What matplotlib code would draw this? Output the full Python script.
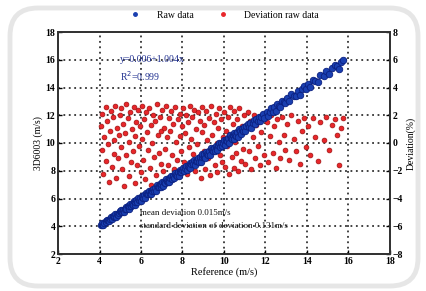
import matplotlib
matplotlib.use("Agg")
import matplotlib.pyplot as plt
from matplotlib.patches import FancyBboxPatch
from matplotlib.lines import Line2D

# reference wind speed (m/s) and deviation (%) of each sample
ref_speed = [
    4.05, 4.10, 4.12, 4.18, 4.22, 4.30, 4.33, 4.38, 4.42, 4.47, 4.50, 4.55, 4.60, 4.63, 4.68, 4.72, 4.77, 4.80, 4.85, 4.90, 4.93, 4.97,
    5.02, 5.05, 5.10, 5.13, 5.18, 5.22, 5.27, 5.30, 5.35, 5.40, 5.43, 5.48, 5.52, 5.56, 5.60, 5.65, 5.70, 5.73, 5.78, 5.82, 5.86, 5.90, 5.95, 5.98,
    6.03, 6.07, 6.10, 6.15, 6.20, 6.24, 6.28, 6.33, 6.37, 6.42, 6.46, 6.50, 6.55, 6.58, 6.63, 6.67, 6.72, 6.76, 6.80, 6.85, 6.90, 6.94, 6.98,
    7.02, 7.06, 7.10, 7.15, 7.20, 7.24, 7.28, 7.33, 7.37, 7.42, 7.46, 7.50, 7.55, 7.60, 7.64, 7.68, 7.73, 7.77, 7.82, 7.86, 7.90, 7.95, 7.98,
    8.03, 8.07, 8.12, 8.16, 8.20, 8.25, 8.30, 8.34, 8.38, 8.43, 8.47, 8.52, 8.56, 8.60, 8.65, 8.70, 8.74, 8.78, 8.83, 8.87, 8.92, 8.96,
    9.02, 9.06, 9.10, 9.15, 9.20, 9.24, 9.28, 9.33, 9.37, 9.42, 9.46, 9.50, 9.55, 9.60, 9.64, 9.68, 9.73, 9.77, 9.82, 9.86, 9.90, 9.95,
    10.02, 10.06, 10.10, 10.15, 10.20, 10.24, 10.28, 10.33, 10.37, 10.42, 10.46, 10.50, 10.55, 10.60, 10.64, 10.68, 10.73, 10.78, 10.82, 10.87, 10.92, 10.96,
    11.03, 11.08, 11.14, 11.20, 11.26, 11.32, 11.38, 11.44, 11.50, 11.56, 11.62, 11.68, 11.74, 11.80, 11.86, 11.92,
    12.05, 12.12, 12.20, 12.27, 12.34, 12.42, 12.50, 12.57, 12.64, 12.72, 12.80, 12.88, 12.95,
    13.05, 13.15, 13.25, 13.35, 13.45, 13.55, 13.65, 13.75, 13.85, 13.95,
    14.05, 14.15, 14.30, 14.40, 14.55, 14.65, 14.80, 14.90,
    15.05, 15.20, 15.35, 15.45, 15.55, 15.65, 15.72,
]
deviation = [
    1.2, -0.5, 2.1, -2.2, 0.4, 2.6, -1.3, 1.6, -0.1, -2.8, 0.9, 2.3, -1.7, 1.9, -0.8, 0.2, 2.7, -2.5, 1.1, -1.1, 0.6, 2.0,
    -0.3, 2.5, -1.9, 1.4, -3.1, 0.7, 2.8, -0.9, 1.8, -2.4, 0.1, 2.2, -1.4, 1.0, -0.6, 2.6, -2.9, 0.5, 1.5, -1.6, 2.4, -0.2, 1.2, -2.1,
    2.7, 0.3, -1.2, 1.7, -2.6, 2.2, 0.8, -0.5, 2.5, -1.8, 1.3, -3.0, 0.0, 2.0, -1.0, 1.6, -2.3, 2.8, 0.6, -0.7, 1.9, -1.5, 0.9,
    2.4, -2.0, 1.1, -0.4, 2.7, 0.4, -1.6, 1.8, -2.7, 0.9, 2.3, -0.9, 1.4, -1.9, 2.6, 0.1, -1.2, 1.7, -2.4, 2.1, 0.5, -0.6, 1.2,
    2.5, -1.4, 0.7, 2.0, -2.2, 1.5, -0.3, 2.7, -1.8, 0.3, 1.9, -0.8, 2.4, -2.0, 1.0, -0.1, 2.2, -1.3, 1.6, -2.5, 0.8, 2.6,
    -0.6, 1.3, -1.9, 2.3, 0.2, -1.1, 1.8, -2.3, 2.7, 0.6, -0.4, 1.5, -1.6, 2.1, 0.0, -2.1, 1.1, 2.5, -0.9, 1.7, -1.4, 0.4,
    2.2, -1.7, 0.9, -0.2, 1.9, -2.2, 2.6, 0.5, -1.0, 1.4, -1.8, 2.3, 0.1, -0.7, 1.7, -2.0, 2.5, 0.7, -1.3, 1.2, -0.4, 2.0,
    -1.5, 1.0, 2.2, -0.6, 1.6, -1.9, 0.4, 2.0, -1.1, 1.3, -0.2, 1.9, -1.6, 0.8, 2.1, -0.9,
    1.5, -1.4, 0.5, 2.0, -0.7, 1.2, -1.8, 1.7, 0.1, -1.1, 1.9, 0.6, -0.5,
    1.4, -1.2, 2.0, 0.3, -0.6, 1.6, -1.5, 0.9, 1.8, -0.3,
    1.2, -0.9, 1.8, 0.4, -1.3, 1.5, 0.2, 1.9,
    -0.5, 1.3, 1.7, 0.6, -1.6, 1.1, 1.8,
]
# measured (3D6003) speed derived from reference speed and deviation
raw_speed = [r * (1 + d / 100.0) for r, d in zip(ref_speed, deviation)]

x_ticks = [2, 4, 6, 8, 10, 12, 14, 16, 18]
y_ticks = [2, 4, 6, 8, 10, 12, 14, 16, 18]
dev_ticks = [-8, -6, -4, -2, 0, 2, 4, 6, 8]

plt.rcParams['font.family'] = ['Liberation Serif', 'DejaVu Serif']

fig = plt.figure(figsize=(4.27, 2.91), dpi=100)
fig.patch.set_facecolor('white')
frame = FancyBboxPatch((0.10, 0.05), 4.08, 2.78,
                       boxstyle="round,pad=0,rounding_size=0.28",
                       transform=fig.dpi_scale_trans, fill=False,
                       ec='#e6e6e6', lw=3.5)
fig.patches.append(frame)

ax = fig.add_axes([58 / 427, 1 - 254 / 291, (390 - 58) / 427, (254 - 32) / 291])
ax2 = ax.twinx()

ax.set_xlim(2, 18)
ax.set_ylim(2, 18)
ax2.set_ylim(-8, 8)
ax.set_xticks(x_ticks)
ax.set_yticks(y_ticks)
ax2.set_yticks(dev_ticks)

# grid on the back (deviation) axes so it sits below all points
ax2.xaxis.set_visible(True)
ax2.tick_params(axis='x', bottom=False, top=False, labelbottom=False, labeltop=False)
ax2.set_axisbelow(True)
ax2.grid(True, axis='both', color='#333333', linestyle=(0, (1, 2)), linewidth=1.3)

ax2.scatter(ref_speed, deviation, s=12, c='#e8262a', edgecolors='#a01010',
            linewidths=0.5, zorder=3)
ax.scatter(ref_speed, raw_speed, s=22, c='#1a3fb0', edgecolors='#0a1f80',
           linewidths=0.6, zorder=4)
ax.set_zorder(ax2.get_zorder() + 1)
ax.patch.set_visible(False)

for a in (ax, ax2):
    for sp in a.spines.values():
        sp.set_linewidth(1.3)
        sp.set_color('#333333')
    a.tick_params(axis='y', direction='in', length=3, width=1, labelsize=7, pad=2)
ax.tick_params(axis='x', direction='in', length=3, width=1, labelsize=7, pad=2)
for lab in ax.get_xticklabels() + ax.get_yticklabels() + ax2.get_yticklabels():
    lab.set_fontweight('bold')

ax.set_xlabel('Reference (m/s)', fontsize=7.5, labelpad=1)
ax.set_ylabel('3D6003 (m/s)', fontsize=7, labelpad=2)
ax2.set_ylabel('Deviation(%)', fontsize=7, labelpad=2)

ax.text(5.0, 16.0, 'y=0.006+1.004x', color='#1f2f8f', fontsize=7, va='center')
ax.text(5.0, 14.85, 'R$^2$=0.999', color='#1f2f8f', fontsize=7, va='center')
ax.text(5.95, 4.95, 'mean deviation 0.015m/s', color='#111111', fontsize=6.5, va='center')
ax.text(5.95, 4.05, 'standard deviation of deviation 0.131m/s', color='#111111',
        fontsize=6.5, va='center')

handles = [Line2D([], [], marker='o', linestyle='none', markersize=2.5,
                  color='#1a3fb0'),
           Line2D([], [], marker='o', linestyle='none', markersize=2.5,
                  color='#e8262a')]
fig.legend(handles, ['Raw data', 'Deviation raw data'], loc='center',
           bbox_to_anchor=(0.52, 1 - 15 / 291), ncol=2, frameon=False,
           fontsize=7, handletextpad=1.2, columnspacing=2.0)

fig.savefig('out.png', dpi=100)
